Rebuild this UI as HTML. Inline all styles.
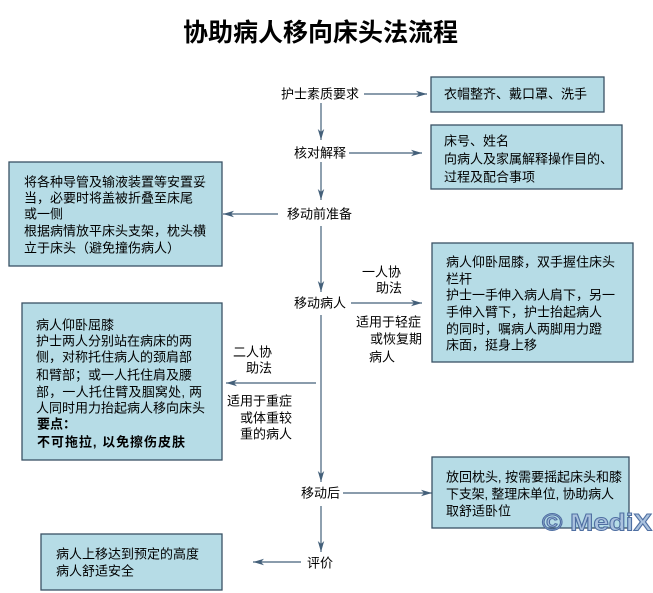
<!DOCTYPE html>
<html><head><meta charset="utf-8"><style>
html,body{margin:0;padding:0;background:#fff;}
svg{display:block;}
text{font-family:"Liberation Sans","Noto Sans CJK SC",sans-serif;font-size:13px;fill:#000;dominant-baseline:central;}
</style></head><body>
<svg width="653" height="593" viewBox="0 0 653 593" xmlns="http://www.w3.org/2000/svg">
<defs>
<marker id="a" markerWidth="12" markerHeight="8" refX="11" refY="4" orient="auto" markerUnits="userSpaceOnUse">
<path d="M0,0.8 L11,4 L0,7.2 L3,4 Z" fill="#44607a"/>
</marker>
</defs>
<text x="320.5" y="33" text-anchor="middle" style="font-size:25px;font-weight:bold;">协助病人移向床头法流程</text>

<g stroke="#44607a" stroke-width="1.2" fill="none">
<line x1="321" y1="103" x2="321" y2="140" marker-end="url(#a)"/>
<line x1="321" y1="162" x2="321" y2="200" marker-end="url(#a)"/>
<line x1="321" y1="226" x2="321" y2="292" marker-end="url(#a)"/>
<line x1="321" y1="315" x2="321" y2="482" marker-end="url(#a)"/>
<line x1="321" y1="506" x2="321" y2="552" marker-end="url(#a)"/>
<line x1="364" y1="94" x2="427" y2="94" marker-end="url(#a)"/>
<line x1="349" y1="153" x2="422" y2="153" marker-end="url(#a)"/>
<line x1="278" y1="214" x2="223" y2="214" marker-end="url(#a)"/>
<line x1="351" y1="303" x2="422" y2="303" marker-end="url(#a)"/>
<line x1="316" y1="383" x2="226" y2="383" marker-end="url(#a)"/>
<line x1="343" y1="493" x2="432" y2="493" marker-end="url(#a)"/>
<line x1="301" y1="562" x2="253" y2="562" marker-end="url(#a)"/>
</g>

<g fill="#b6dce6" stroke="#3a5265" stroke-width="1.3">
<rect x="431" y="77" width="173" height="35"/>
<rect x="431" y="125" width="191" height="64"/>
<rect x="9" y="162" width="213" height="104"/>
<rect x="432" y="243" width="201" height="119"/>
<rect x="22" y="303" width="200" height="157"/>
<rect x="432" y="457" width="197" height="71"/>
<rect x="41" y="534" width="181" height="56"/>
</g>

<text x="281" y="94">护士素质要求</text>
<text x="294" y="153">核对解释</text>
<text x="287" y="214">移动前准备</text>
<text x="294" y="303">移动病人</text>
<text x="362" y="272">一人协</text>
<text x="376" y="288">助法</text>
<text x="356" y="322">适用于轻症</text>
<text x="370" y="339">或恢复期</text>
<text x="369" y="357">病人</text>
<text x="233" y="352">二人协</text>
<text x="246" y="368">助法</text>
<text x="227" y="401">适用于重症</text>
<text x="240" y="418">或体重较</text>
<text x="240" y="434">重的病人</text>
<text x="301" y="493">移动后</text>
<text x="307" y="563">评价</text>

<text x="444" y="94">衣帽整齐、戴口罩、洗手</text>

<text x="444" y="141">床号、姓名</text>
<text x="444" y="159">向病人及家属解释操作目的、</text>
<text x="444" y="177">过程及配合事项</text>

<text x="24" y="182">将各种导管及输液装置等安置妥</text>
<text x="24" y="198">当，必要时将盖被折叠至床尾</text>
<text x="24" y="214">或一侧</text>
<text x="24" y="231">根据病情放平床头支架，枕头横</text>
<text x="24" y="248">立于床头（避免撞伤病人）</text>

<text x="446" y="262">病人仰卧屈膝，双手握住床头</text>
<text x="446" y="279">栏杆</text>
<text x="446" y="295">护士一手伸入病人肩下，另一</text>
<text x="446" y="312">手伸入臂下，护士抬起病人</text>
<text x="446" y="329">的同时，嘱病人两脚用力蹬</text>
<text x="446" y="345">床面，挺身上移</text>

<text x="36" y="325">病人仰卧屈膝</text>
<text x="36" y="341">护士两人分别站在病床的两</text>
<text x="36" y="357">侧，对称托住病人的颈肩部</text>
<text x="36" y="375">和臂部；或一人托住肩及腰</text>
<text x="36" y="392" textLength="166" lengthAdjust="spacing">部，一人托住臂及腘窝处, 两</text>
<text x="36" y="408">人同时用力抬起病人移向床头</text>
<text x="37" y="424" style="font-weight:bold;">要点：</text>
<text x="37" y="442" style="font-weight:bold;" textLength="148" lengthAdjust="spacing">不可拖拉, 以免擦伤皮肤</text>

<text x="446" y="477" textLength="176" lengthAdjust="spacing">放回枕头, 按需要摇起床头和膝</text>
<text x="446" y="494" textLength="168" lengthAdjust="spacing">下支架, 整理床单位, 协助病人</text>
<text x="446" y="511">取舒适卧位</text>

<text x="56" y="554">病人上移达到预定的高度</text>
<text x="56" y="571">病人舒适安全</text>

<text x="542" y="523" textLength="110" lengthAdjust="spacingAndGlyphs" style="font-size:24px;font-weight:bold;fill:#aac2de;stroke:#4f6fa2;stroke-width:1;">© MediX</text>
</svg>
</body></html>
